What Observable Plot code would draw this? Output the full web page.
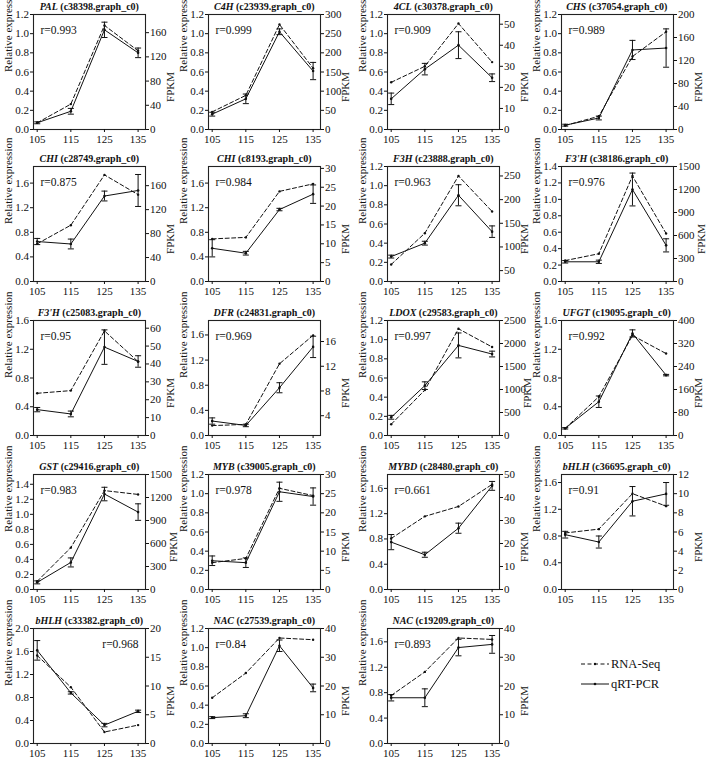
<!DOCTYPE html>
<html><head><meta charset="utf-8">
<script src="https://cdn.jsdelivr.net/npm/d3@7"></script>
<script src="https://cdn.jsdelivr.net/npm/@observablehq/plot@0.6"></script>
<style>
body{margin:0;background:#fff;}
#root{position:relative;width:708px;height:759px;font-family:"Liberation Serif","Times New Roman",serif;color:#111;}
.panel{position:absolute;}
.panel svg{position:absolute;left:0;top:0;overflow:visible;max-width:none !important;}
.title{position:absolute;font-size:10px;font-weight:bold;white-space:nowrap;transform:translateX(-50%);line-height:12px;}
.legend{position:absolute;}
</style></head><body><div id="root"></div>
<script>
// ---------------- data ----------------
const days = [105, 115, 125, 135];
const geneNames = ["PAL","C4H","4CL","CHS","CHI","CHI","F3H","F3'H","F3'H","DFR","LDOX","UFGT","GST","MYB","MYBD","bHLH","bHLH","NAC","NAC"];
const geneIds = ["c38398.graph_c0","c23939.graph_c0","c30378.graph_c0","c37054.graph_c0","c28749.graph_c0","c8193.graph_c0","c23888.graph_c0","c38186.graph_c0","c25083.graph_c0","c24831.graph_c0","c29583.graph_c0","c19095.graph_c0","c29416.graph_c0","c39005.graph_c0","c28480.graph_c0","c36695.graph_c0","c33382.graph_c0","c27539.graph_c0","c19209.graph_c0"];
const rValues = ["0.993","0.999","0.909","0.989","0.875","0.984","0.963","0.976","0.95","0.969","0.997","0.992","0.983","0.978","0.661","0.91","0.968","0.84","0.893"];

// qRT-PCR relative expression (mean, error)
const qpcrMean = [
  [0.07,0.19,1.04,0.80],[0.16,0.32,1.02,0.61],[0.32,0.63,0.88,0.54],[0.045,0.12,0.83,0.85],
  [0.65,0.61,1.39,1.48],[0.54,0.46,1.17,1.42],[0.26,0.40,0.90,0.52],[0.24,0.24,1.12,0.44],
  [0.36,0.30,1.23,1.03],[0.23,0.16,0.76,1.41],[0.19,0.52,0.94,0.85],[0.10,0.47,1.42,0.84],
  [0.095,0.36,1.27,1.03],[0.30,0.28,1.02,0.97],[0.75,0.55,0.97,1.64],[0.82,0.71,1.32,1.43],
  [1.62,0.88,0.32,0.56],[0.27,0.29,1.02,0.58],[0.72,0.72,1.51,1.56]
];
const qpcrErr = [
  [0.01,0.03,0.08,0.05],[0.02,0.05,0.03,0.09],[0.06,0.06,0.14,0.04],[0.01,0.02,0.10,0.20],
  [0.05,0.08,0.08,0.26],[0.14,0.03,0.02,0.15],[0.015,0.02,0.11,0.06],[0.015,0.02,0.20,0.08],
  [0.03,0.04,0.24,0.08],[0.05,0.02,0.08,0.17],[0.02,0.04,0.13,0.03],[0.01,0.08,0.05,0.01],
  [0.02,0.06,0.09,0.11],[0.05,0.05,0.10,0.09],[0.12,0.04,0.08,0.07],[0.05,0.09,0.22,0.17],
  [0.17,0.02,0.03,0.02],[0.01,0.02,0.06,0.04],[0.05,0.14,0.13,0.14]
];
// RNA-Seq FPKM
const fpkm = [
  [11,42,172,130],[46,89,274,160],[22.4,30,50.3,32],[7,23,127,170],
  [63,94,178,145],[11.3,11.7,23.9,25.9],[63,129,250,175],[273,362,1376,626],
  [23.6,25.1,58.5,41.3],[2.4,2.6,12.4,17],[245,987,2320,1924],[25,135,348,285],
  [107,546,1290,1240],[7.0,8.1,26.4,24.5],[22.2,31.8,36.1,45.7],[5.9,6.3,10.0,8.7],
  [15.3,9.8,2.0,3.2],[15.9,24.5,36.7,36.1],[16.7,24.9,36.7,36.2]
];
// axis ranges and tick steps
const leftMax  = [1.2,1.2,1.2,1.2,1.87,1.87,1.2,1.4,1.6,1.83,1.2,1.6,1.53,1.2,1.82,1.72,2.0,1.2,1.81];
const leftStep = [0.2,0.2,0.2,0.2,0.4,0.4,0.2,0.2,0.4,0.4,0.2,0.4,0.2,0.2,0.4,0.4,0.4,0.2,0.4];
const rightDomain = [[0,190],[0,300],[0,54.6],[0,200],[0,192],[0,30.5],[27,270],[0,1500],[0,64.3],[0.8,19.4],[0,2500],[0,400],[0,1500],[0,30],[0,50],[0,12],[0,20],[0,40],[0,40]];
const rightStep = [40,50,10,40,40,5,50,300,10,4,500,80,300,5,10,2,5,10,10];

// ---------------- layout ----------------
const root = document.getElementById("root");
const colX = [33.3, 208.3, 387.3, 560.7];
const rowY = [14.3, 165.7, 320, 474.3, 628.3];
const FW = 112, FH = 115;
const ML = 32, MR = 31, MT = 4, MB = 22;
const font = '"Liberation Serif","Times New Roman",serif';
const ink = "#111";

function tickRange(lo, hi, step) {
  const a = Math.ceil(lo / step - 1e-9), b = Math.floor(hi / step + 1e-9);
  return d3.range(a, b + 1).map(k => +(k * step).toFixed(6));
}

geneNames.forEach((name, i) => {
  const col = i % 4, row = Math.floor(i / 4);
  const fx = colX[col], fy = rowY[row];
  const box = document.createElement("div");
  box.className = "panel";
  box.style.left = (fx - ML) + "px";
  box.style.top = (fy - MT) + "px";
  box.style.width = (ML + FW + MR) + "px";
  box.style.height = (MT + FH + MB) + "px";
  root.appendChild(box);

  const qData = days.map((d, k) => ({day: d, v: qpcrMean[i][k], e: qpcrErr[i][k]}));
  const fData = days.map((d, k) => ({day: d, v: fpkm[i][k]}));
  const lt = tickRange(0, leftMax[i], leftStep[i]);
  const rt = tickRange(rightDomain[i][0], rightDomain[i][1], rightStep[i]);
  const rRight = geneIds[i] === "c33382.graph_c0";
  const maxLen = d3.max(rt, t => String(t).length);
  const fpkmOff = maxLen >= 4 ? 27.5 : 24.5;

  const common = {
    width: ML + FW + MR, height: MT + FH + MB,
    marginLeft: ML, marginRight: MR, marginTop: MT, marginBottom: MB,
    style: {fontFamily: font, fontSize: "11px", background: "transparent", color: ink, overflow: "visible", maxWidth: "none"}
  };
  const cap = 0.9;
  const A = Plot.plot({
    ...common,
    x: {domain: [103.9, 137.2]},
    y: {domain: [0, leftMax[i]]},
    marks: [
      Plot.frame({stroke: "#222", strokeWidth: 1.1}),
      Plot.axisX({ticks: days, tickSize: 3, tickPadding: 2.5, tickFormat: d => String(d), label: null}),
      Plot.axisY({anchor: "left", ticks: lt, tickSize: 3, tickPadding: 1.5, tickFormat: d => d.toFixed(1), label: null}),
      Plot.ruleX(qData, {x: "day", y1: d => d.v - d.e, y2: d => d.v + d.e, stroke: ink, strokeWidth: 1}),
      Plot.link(qData, {x1: d => d.day - cap, x2: d => d.day + cap, y1: d => d.v - d.e, y2: d => d.v - d.e, stroke: ink}),
      Plot.link(qData, {x1: d => d.day - cap, x2: d => d.day + cap, y1: d => d.v + d.e, y2: d => d.v + d.e, stroke: ink}),
      Plot.line(qData, {x: "day", y: "v", stroke: ink, strokeWidth: 1}),
      Plot.dot(qData, {x: "day", y: "v", r: 1.3, fill: ink, stroke: null}),
      Plot.text(["r=" + rValues[i]], {frameAnchor: rRight ? "top-right" : "top-left", dx: rRight ? -7 : 7, dy: 11, fontSize: 11.5, textAnchor: rRight ? "end" : "start", fill: ink}),
      Plot.text(["Relative expression"], {frameAnchor: "left", rotate: -90, dx: -25.5, fontSize: 11, fill: ink})
    ]
  });
  const B = Plot.plot({
    ...common,
    x: {domain: [103.9, 137.2], axis: null},
    y: {domain: rightDomain[i]},
    marks: [
      Plot.axisY({anchor: "right", ticks: rt, tickSize: 3, tickPadding: 1.5, tickFormat: d => String(d), label: null}),
      Plot.line(fData, {x: "day", y: "v", stroke: ink, strokeWidth: 1, strokeDasharray: "4,2.5"}),
      Plot.dot(fData, {x: "day", y: "v", r: 1.2, fill: ink, stroke: null}),
      Plot.text(["FPKM"], {frameAnchor: "right", rotate: -90, dx: fpkmOff, fontSize: 11, fill: ink})
    ]
  });
  box.appendChild(A);
  box.appendChild(B);
  B.style.pointerEvents = "none";

  const t = document.createElement("div");
  t.className = "title";
  t.style.left = (fx + FW / 2) + "px";
  t.style.top = (fy - 13) + "px";
  const it = document.createElement("i");
  it.textContent = name;
  t.appendChild(it);
  t.appendChild(document.createTextNode(" (" + geneIds[i] + ")"));
  root.appendChild(t);
});

// legend
const lg = document.createElement("div");
lg.className = "legend";
lg.style.left = "578px"; lg.style.top = "652px";
lg.innerHTML = `<svg width="110" height="44" style="font-family:${font.replace(/"/g,"'")};font-size:12.5px">
  <line x1="3" y1="12" x2="31" y2="12" stroke="${ink}" stroke-dasharray="4,2.5"/>
  <circle cx="17" cy="12" r="1.2" fill="${ink}"/>
  <text x="33" y="16" fill="${ink}">RNA-Seq</text>
  <line x1="3" y1="32" x2="31" y2="32" stroke="${ink}"/>
  <circle cx="17" cy="32" r="1.3" fill="${ink}"/>
  <text x="33" y="36" fill="${ink}">qRT-PCR</text>
</svg>`;
root.appendChild(lg);
</script>
</body></html>
